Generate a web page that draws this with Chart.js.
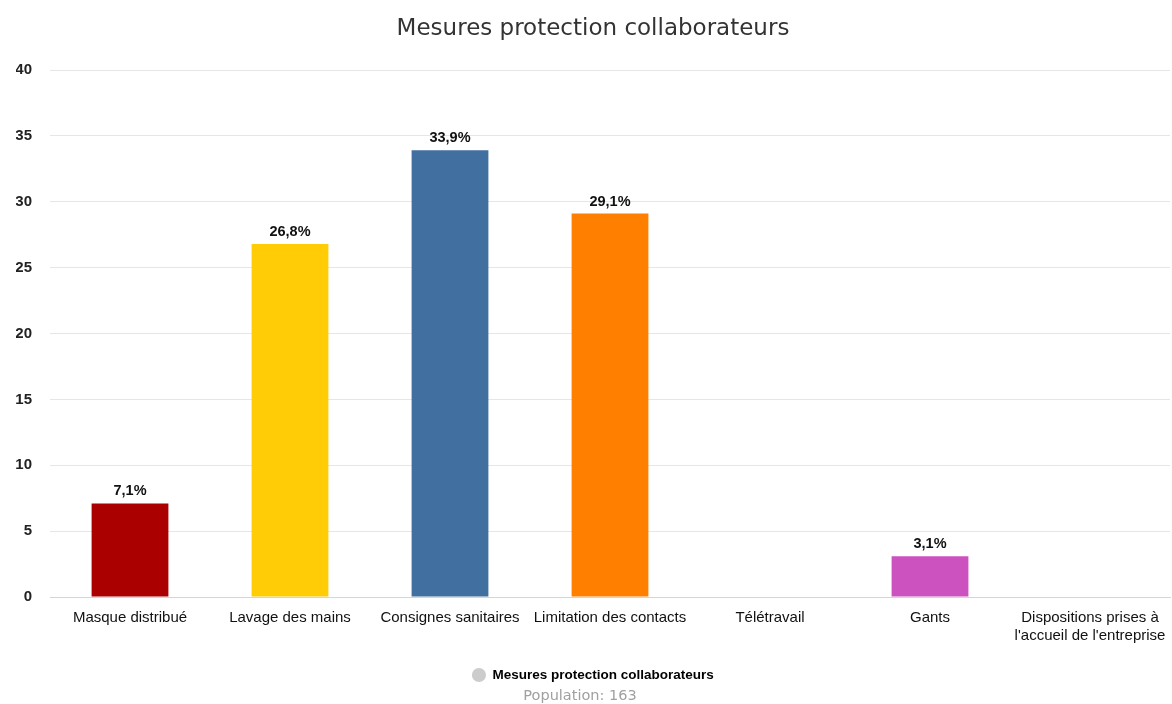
<!DOCTYPE html>
<html>
<head>
<meta charset="utf-8">
<script src="https://cdn.jsdelivr.net/npm/chart.js@4/dist/chart.umd.min.js"></script>
<style>
html,body{margin:0;padding:0;background:#fff;}
#wrap{width:1172px;height:704px;position:relative;}
</style>
</head>
<body>
<div id="wrap"><canvas id="c" width="1172" height="704"></canvas></div>
<script>
const categories = ["Masque distribué","Lavage des mains","Consignes sanitaires","Limitation des contacts","Télétravail","Gants",["Dispositions prises à","l'accueil de l'entreprise"]];
const values = [7.1, 26.8, 33.9, 29.1, 0, 3.1, 0];
const valueLabels = ["7,1%","26,8%","33,9%","29,1%","","3,1%",""];
const barColors = ["#aa0000","#ffcc05","#406fa0","#ff8000","#2f9e44","#cc52bf","#7f7f7f"];
const yTicks = [0,5,10,15,20,25,30,35,40];
const seriesName = "Mesures protection collaborateurs";
const subtitleText = "Population: 163";

const valueLabelPlugin = {
  id: 'valueLabels',
  afterDatasetsDraw(chart) {
    const ctx = chart.ctx;
    const meta = chart.getDatasetMeta(0);
    ctx.save();
    ctx.font = 'bold 14.5px "Liberation Sans", Arial, sans-serif';
    ctx.fillStyle = '#111';
    ctx.textAlign = 'center';
    ctx.textBaseline = 'middle';
    meta.data.forEach((el, i) => {
      if (!valueLabels[i]) return;
      ctx.fillText(valueLabels[i], el.x, el.y - 12);
    });
    ctx.restore();
  }
};

const subtitlePlugin = {
  id: 'populationText',
  afterDraw(chart) {
    const ctx = chart.ctx;
    ctx.save();
    ctx.font = '14.5px "DejaVu Sans", sans-serif';
    ctx.fillStyle = '#a0a0a0';
    ctx.textAlign = 'center';
    ctx.textBaseline = 'middle';
    ctx.fillText(subtitleText, 580, 696);
    ctx.restore();
  }
};

new Chart(document.getElementById('c'), {
  type: 'bar',
  data: {
    labels: categories,
    datasets: [{
      label: seriesName,
      data: values,
      backgroundColor: barColors,
      borderWidth: 0,
      barPercentage: 0.48,
      categoryPercentage: 1
    }]
  },
  options: {
    responsive: false,
    animation: false,
    devicePixelRatio: 1,
    layout: { padding: { left: 16, right: 2, top: 0, bottom: 12.25 } },
    plugins: {
      title: {
        display: true,
        text: seriesName,
        color: '#333333',
        font: { family: '"DejaVu Sans", sans-serif', size: 23, weight: 'normal' },
        padding: { top: 15, bottom: 27.4 }
      },
      legend: {
        display: true,
        position: 'bottom',
        labels: {
          usePointStyle: true,
          pointStyle: 'circle',
          boxHeight: 10,
          boxWidth: 14,
          padding: 6,
          color: '#222',
          font: { family: '"Liberation Sans", Arial, sans-serif', size: 13.5, weight: 'bold' },
          generateLabels(chart) {
            return [{ text: seriesName, fillStyle: '#cccccc', strokeStyle: '#cccccc', lineWidth: 0, pointStyle: 'circle', datasetIndex: 0 }];
          }
        }
      },
      tooltip: { enabled: false }
    },
    scales: {
      x: {
        afterFit(scale) { scale.height = 65.25; scale.paddingLeft = 0; scale.paddingRight = 0; },
        grid: { display: false, drawTicks: false },
        border: { display: true, color: '#ccd6eb', width: 1 },
        ticks: {
          color: '#111',
          padding: 12,
          maxRotation: 0,
          autoSkip: false,
          font: { family: '"Liberation Sans", Arial, sans-serif', size: 15, lineHeight: 1.2 }
        }
      },
      y: {
        min: 0, max: 40,
        afterBuildTicks(scale) { scale.ticks = yTicks.map(v => ({ value: v })); },
        afterFit(scale) { scale.width = 34; scale.paddingTop = 0; scale.paddingBottom = 0; },
        grid: { color: '#e6e6e6', drawTicks: false, lineWidth: 1 },
        border: { display: false },
        ticks: {
          color: '#222',
          padding: 18,
          font: { family: '"Liberation Sans", Arial, sans-serif', size: 15, weight: 'bold' }
        }
      }
    }
  },
  plugins: [valueLabelPlugin, subtitlePlugin]
});
</script>
</body>
</html>
